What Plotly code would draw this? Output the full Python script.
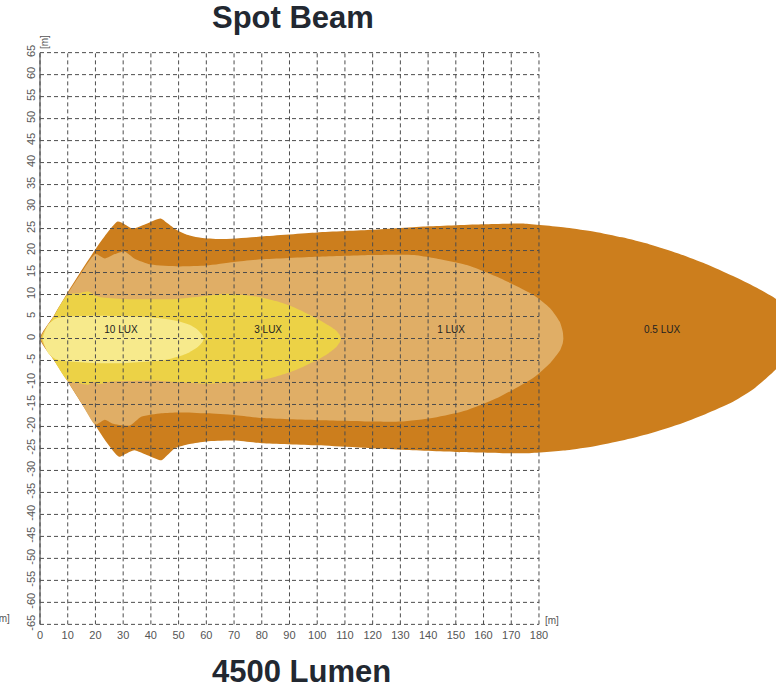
import plotly.graph_objects as go

# ---- data (metres) ----
lux_05_upper_x = [0, 5, 10, 15, 20, 24, 28, 30.5, 33.5, 38, 43.5, 46, 49, 53, 58, 65, 80, 100, 120, 140, 160, 175, 190, 200, 210, 220, 230, 240, 250, 258, 265.5, 270, 272]
lux_05_upper_y = [0, 5.2, 10.5, 15.5, 20.3, 23.8, 26.6, 26.0, 25.0, 26.0, 27.3, 26.2, 24.8, 23.6, 22.9, 22.6, 23.2, 24.1, 24.7, 25.5, 26.0, 26.1, 25.2, 24.3, 23.0, 21.4, 19.4, 17.0, 14.2, 11.7, 9.0, 5.5, 1.0]
lux_05_lower_x = [0, 5, 10, 15, 20, 24, 28.5, 31, 34, 39, 43.8, 46, 48.6, 54, 60, 70, 80, 100, 130, 150, 175, 190, 200, 210, 220, 230, 240, 250, 258, 265.5, 270, 272]
lux_05_lower_y = [0, -4.9, -9.8, -14.8, -19.8, -23.6, -26.9, -26.2, -25.4, -26.6, -27.7, -26.5, -25.0, -24.0, -23.4, -23.2, -23.8, -24.3, -25.3, -25.8, -26.1, -25.4, -24.5, -23.2, -21.6, -19.6, -17.2, -14.4, -11.2, -7.0, -3.5, 1.0]

lux_1_upper_x = [0.3, 5, 10, 15, 20, 23.4, 27, 30.5, 34, 40, 50, 60, 70, 80, 100, 120, 135, 142, 154, 166, 178, 184, 187.5, 188.6, 188.8]
lux_1_upper_y = [0, 5.0, 10.2, 15.0, 19.2, 18.2, 19.2, 19.8, 18.2, 16.8, 16.4, 16.6, 17.4, 18.0, 18.6, 19.0, 19.0, 18.3, 16.7, 13.7, 9.9, 6.9, 3.8, 1.5, 0]
lux_1_lower_x = [0.3, 5, 10, 15, 20, 23.4, 26, 32.4, 36.5, 43.8, 50, 60, 70, 80, 100, 120, 130, 142, 154, 166, 178, 184, 187.5, 188.6, 188.8]
lux_1_lower_y = [0, -4.8, -9.7, -14.7, -19.6, -18.5, -19.3, -19.8, -17.8, -17.0, -16.8, -17.0, -17.4, -18.1, -18.6, -18.9, -18.9, -18.0, -16.3, -13.2, -8.9, -5.6, -2.8, -1.0, 0]

lux_3_upper_x = [0.5, 5, 10, 14, 17.4, 20, 22, 30, 40, 50, 60, 67, 75, 80, 85, 90, 95, 100, 104, 106.8, 108.2, 108.6]
lux_3_upper_y = [0, 5.0, 10.0, 10.3, 10.7, 9.8, 9.4, 9.0, 8.9, 9.0, 9.7, 10.2, 9.8, 9.3, 8.5, 7.5, 6.1, 4.5, 3.0, 1.8, 0.7, 0]
lux_3_lower_x = [0.5, 5, 10, 14, 17.4, 19.2, 21, 25.7, 40, 50, 60, 65, 72, 80, 85, 90, 95, 100, 104, 106.8, 108.2, 108.6]
lux_3_lower_y = [0, -4.9, -9.6, -10.2, -10.5, -9.8, -10.4, -9.8, -9.6, -9.9, -10.3, -10.1, -9.9, -9.4, -8.7, -7.7, -6.4, -4.9, -3.4, -2.0, -0.8, 0]

lux_10_upper_x = [1, 3, 6, 10, 20, 30, 40, 45, 50, 54, 57, 58.6, 59.1]
lux_10_upper_y = [0, 3.2, 4.6, 5.0, 5.2, 5.1, 4.8, 4.5, 3.9, 3.1, 1.9, 0.8, 0]
lux_10_lower_x = [1, 3, 6, 10, 20, 30, 40, 45, 50, 54, 57, 58.6, 59.1]
lux_10_lower_y = [0, -3.4, -4.8, -5.2, -5.6, -5.6, -5.2, -4.9, -4.1, -3.1, -1.9, -0.8, 0]

zone_labels = ["0.5 LUX", "1 LUX", "3 LUX", "10 LUX"]
label_x = [224.4, 148.3, 82.3, 29.2]
label_y = [1.9, 1.9, 1.9, 1.9]

x_ticks = list(range(0, 181, 10))
y_ticks = list(range(-65, 66, 5))

title_top = "Spot Beam"
title_bottom = "4500 Lumen"

# ---- styles ----
zone_colors = ["#CC7E1D", "#E0AE66", "#ECD246", "#F7EA8C"]
grid_color = "#4d4d4d"
FONT = "Liberation Sans, Arial, sans-serif"

fig = go.Figure()

zones = [
    (lux_05_upper_x, lux_05_upper_y, lux_05_lower_x, lux_05_lower_y),
    (lux_1_upper_x, lux_1_upper_y, lux_1_lower_x, lux_1_lower_y),
    (lux_3_upper_x, lux_3_upper_y, lux_3_lower_x, lux_3_lower_y),
    (lux_10_upper_x, lux_10_upper_y, lux_10_lower_x, lux_10_lower_y),
]
for (ux, uy, lx, ly), col in zip(zones, zone_colors):
    xs = list(ux) + list(reversed(lx))
    ys = list(uy) + list(reversed(ly))
    fig.add_trace(go.Scatter(
        x=xs, y=ys, mode="lines", fill="toself", fillcolor=col,
        line=dict(width=0, color=col, shape="spline", smoothing=0.6),
        hoverinfo="skip", showlegend=False))

# zone labels (under grid)
fig.add_trace(go.Scatter(
    x=label_x, y=label_y, mode="text", text=zone_labels,
    textfont=dict(size=10, color="#222222", family=FONT),
    hoverinfo="skip", showlegend=False))

# grid (dashed, only up to 180 m)
gx, gy = [], []
for xv in x_ticks:
    gx += [xv, xv, None]
    gy += [y_ticks[0], y_ticks[-1], None]
for yv in y_ticks:
    gx += [x_ticks[0], x_ticks[-1], None]
    gy += [yv, yv, None]
fig.add_trace(go.Scatter(
    x=gx, y=gy, mode="lines",
    line=dict(color=grid_color, width=1, dash="4px,3px"),
    hoverinfo="skip", showlegend=False))

# solid y axis line
fig.add_trace(go.Scatter(
    x=[0, 0], y=[y_ticks[0], y_ticks[-1]], mode="lines",
    line=dict(color="#555555", width=1.2),
    hoverinfo="skip", showlegend=False))

L, R, T, B = 38, 0, 50, 61
W, H = 776, 688
pw = W - L - R
ph = H - T - B

def px(xpix):
    return (xpix - L) / pw

def py(ypix):
    return (H - B - ypix) / ph

fig.update_layout(
    width=W, height=H,
    margin=dict(l=L, r=R, t=T, b=B, autoexpand=False),
    paper_bgcolor="white", plot_bgcolor="white",
    font=dict(family=FONT),
    xaxis=dict(range=[-0.72, 265.5], showgrid=False, zeroline=False,
               automargin=False,
               tickvals=x_ticks, ticktext=[str(v) for v in x_ticks],
               ticks="", showline=False,
               tickfont=dict(size=11, color="#555555", family=FONT)),
    yaxis=dict(range=[-65.6, 65.6], showgrid=False, zeroline=False,
               automargin=False,
               tickvals=y_ticks, ticktext=[str(v) for v in y_ticks],
               ticks="", showline=False, tickangle=-90,
               tickfont=dict(size=11, color="#555555", family=FONT)),
    annotations=[
        dict(text=title_top, x=px(210), y=py(17), xref="paper", yref="paper",
             xanchor="left", yanchor="middle", showarrow=False,
             font=dict(size=31, color="#222831", family=FONT, weight="bold")),
        dict(text=title_bottom, x=px(210), y=py(671), xref="paper", yref="paper",
             xanchor="left", yanchor="middle", showarrow=False,
             font=dict(size=31, color="#222831", family=FONT, weight="bold")),
        dict(text="[m]", x=px(45), y=py(42), xref="paper", yref="paper",
             xanchor="center", yanchor="middle", showarrow=False, textangle=-90,
             font=dict(size=10, color="#555555", family=FONT)),
        dict(text="[m]", x=px(543), y=py(620), xref="paper", yref="paper",
             xanchor="left", yanchor="middle", showarrow=False,
             font=dict(size=10, color="#555555", family=FONT)),
        dict(text="[m]", x=px(12), y=py(618), xref="paper", yref="paper",
             xanchor="right", yanchor="middle", showarrow=False,
             font=dict(size=10, color="#555555", family=FONT)),
    ],
)

fig.write_html("out.html", config={"displayModeBar": False},
               post_script="document.body.style.margin='0px';document.body.style.overflow='hidden';")
